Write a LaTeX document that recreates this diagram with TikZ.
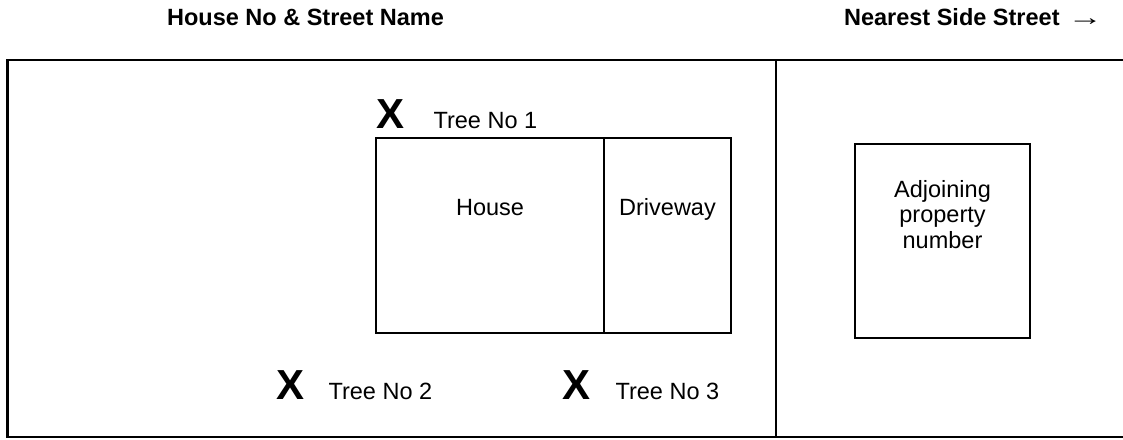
\documentclass[tikz,border=0pt]{standalone}
\usepackage{graphicx}
\usepackage{fontspec}
\setmainfont{Liberation Sans}
\begin{document}
\begin{tikzpicture}[x=1pt,y=-1pt,line width=2.2pt,
  txt/.style={inner sep=0pt,anchor=base,font=\fontsize{23.5}{27}\selectfont},
  lbl/.style={inner sep=0pt,anchor=base west,font=\fontsize{23.5}{27}\selectfont},
  hdr/.style={inner sep=0pt,anchor=base west,font=\fontsize{23.5}{27}\selectfont\bfseries},
  xmark/.style={inner sep=0pt,anchor=base west,font=\fontsize{42}{46}\selectfont\bfseries},
  plan/.style={draw,line width=2.2pt}]
\useasboundingbox (0,0) rectangle (1123,439);
% outer lot outline (right edge lies beyond the picture)
\begin{scope}
\clip (0,0) rectangle (1123,439);
\draw[plan] (1140,60) -- (7.5,60) -- (7.5,437) -- (1140,437);
\end{scope}
\draw[plan] (775.7,60) -- (775.7,437);
% house and driveway
\draw[plan] (376,138) rectangle (731,333);
\draw[plan] (604,138) -- (604,333);
% adjoining property
\draw[plan] (855,144) rectangle (1030,338);
% headers
\node[hdr] (street) at (166,25) {House No \& Street Name};
\node[hdr] (side) at (843,25) {Nearest Side Street\hspace{8pt}\mdseries\scalebox{1.5}[1]{→}};
% texts
\node[txt] (house) at (490,215.7) {House};
\node[txt] (drive) at (667.5,215.7) {Driveway};
\node[txt] (adj1) at (942.5,197) {Adjoining};
\node[txt] (adj2) at (942.5,222.5) {property};
\node[txt] (adj3) at (942.5,248) {number};
% trees
\node[xmark] (x1) at (375.5,128) {X};
\node[lbl] (t1) at (432.5,128) {Tree No 1};
\node[xmark] (x2) at (275.5,399) {X};
\node[lbl] (t2) at (327.5,399) {Tree No 2};
\node[xmark] (x3) at (561.5,399) {X};
\node[lbl] (t3) at (614.5,399) {Tree No 3};
\end{tikzpicture}
\end{document}
